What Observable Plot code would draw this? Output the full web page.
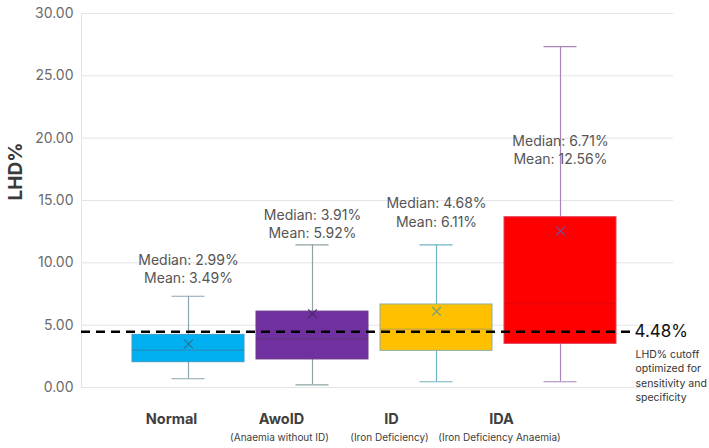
<!DOCTYPE html>
<html>
<head>
<meta charset="utf-8">
<script src="https://cdn.jsdelivr.net/npm/d3@7"></script>
<script src="https://cdn.jsdelivr.net/npm/@observablehq/plot@0.6"></script>
<style>
  body { margin: 0; background: #fff; }
  #chart svg { font-family: Inter, "Noto Sans", sans-serif; }
</style>
</head>
<body>
<div id="chart"></div>
<script>
// LHD% distribution by group
const categories = ["Normal", "AwoID", "ID", "IDA"];
const subtitles = ["", "(Anaemia without ID)", "(Iron Deficiency)", "(Iron Deficiency Anaemia)"];
const whiskerLow = [0.70, 0.21, 0.46, 0.46];
const q1 = [2.03, 2.25, 2.94, 3.50];
const median = [2.99, 3.91, 4.68, 6.71];
const q3 = [4.22, 6.09, 6.66, 13.66];
const whiskerHigh = [7.32, 11.44, 11.44, 27.35];
const mean = [3.49, 5.92, 6.11, 12.56];
// where each Median/Mean annotation sits, in LHD% units
const labelAt = [9.6, 13.2, 14.1, 19.1];
const cutoff = 4.48;
const yTicks = [0, 5, 10, 15, 20, 25, 30];

const boxFill = ["#00b0f0", "#7030a0", "#ffc000", "#ff0000"];
const boxStroke = ["#3a9cc4", "#6a3a8a", "#8fb0a0", "#e0405a"];
const whiskerColor = ["#8aa4b0", "#8fa3a3", "#6fb5c0", "#a884b8"];
const medianColor = ["#2f7fa5", "#5a3a78", "#a89a6a", "#d80818"];
const meanColor = ["#2f6f8f", "#4a2a6a", "#6aa080", "#7a4aa0"];

const rows = categories.map((c, i) => ({
  cat: c, sub: subtitles[i], lo: whiskerLow[i], q1: q1[i], med: median[i],
  q3: q3[i], hi: whiskerHigh[i], mean: mean[i], at: labelAt[i],
  fill: boxFill[i], stroke: boxStroke[i], wc: whiskerColor[i], mc: medianColor[i], xc: meanColor[i]
}));

const fmt = d3.format(".2f");

// group names sit slightly left of their boxes, drifting further left across the axis
const labelMarks = [];
rows.forEach((r, i) => {
  const d = [r];
  labelMarks.push(
    Plot.text(d, {x: "cat", frameAnchor: "bottom", text: "cat", dy: 36, dx: -17 - 14 * i,
      fontSize: 14.5, fontWeight: "bold", fill: "#404040"}),
    Plot.text(d, {x: "cat", frameAnchor: "bottom", text: "sub", dy: 53, dx: -19 - 14 * i,
      fontSize: 10, fill: "#404040"})
  );
});

const chart = Plot.plot({
  width: 709,
  height: 448,
  marginLeft: 81,
  marginRight: 36,
  marginTop: 13,
  marginBottom: 61,
  style: {fontFamily: "Inter, 'Noto Sans', sans-serif", background: "#fff"},
  x: {domain: categories, paddingInner: 0.094, paddingOuter: 0.42, align: 0.47, axis: null},
  y: {domain: [0, 30], axis: null},
  marks: [
    Plot.ruleY(yTicks, {stroke: "#e4e4e4", strokeWidth: 1}),
    Plot.frame({anchor: "left", stroke: "#e4e4e4"}),
    Plot.text(yTicks, {y: d => d, frameAnchor: "left", dx: -8, textAnchor: "end",
      text: d => fmt(d), fontSize: 14, fill: "#6b6b6b"}),
    Plot.text(["LHD%"], {frameAnchor: "left", dx: -66, rotate: -90, text: d => d,
      fontSize: 19, fontWeight: "bold", fill: "#3a3a3a"}),
    // whiskers and caps
    Plot.ruleX(rows, {x: "cat", y1: "lo", y2: "hi", stroke: "wc", strokeWidth: 1.2}),
    Plot.tickY(rows, {x: "cat", y: "lo", stroke: "wc", strokeWidth: 1.2, insetLeft: 39.5, insetRight: 39.5}),
    Plot.tickY(rows, {x: "cat", y: "hi", stroke: "wc", strokeWidth: 1.2, insetLeft: 39.5, insetRight: 39.5}),
    // interquartile boxes
    Plot.barY(rows, {x: "cat", y1: "q1", y2: "q3", fill: "fill", stroke: "stroke", strokeWidth: 1}),
    Plot.tickY(rows, {x: "cat", y: "med", stroke: "mc", strokeWidth: 1, strokeOpacity: 0.8}),
    Plot.dot(rows, {x: "cat", y: "mean", symbol: "times", r: 4, stroke: "xc", strokeWidth: 1.2}),
    // cutoff line
    Plot.ruleY([cutoff], {stroke: "#000", strokeWidth: 2.5, strokeDasharray: "9,6", insetRight: 43}),
    Plot.text([cutoff], {y: d => d, frameAnchor: "right", dx: -39, textAnchor: "start",
      text: d => fmt(d) + "%", fontSize: 17, fill: "#111"}),
    Plot.text([cutoff], {y: d => d, frameAnchor: "right", dx: -38, dy: 16, textAnchor: "start",
      lineAnchor: "top", lineHeight: 1.38,
      text: () => "LHD% cutoff\noptimized for\nsensitivity and\nspecificity", fontSize: 10.5, fill: "#333"}),
    // median / mean annotations
    Plot.text(rows, {x: "cat", y: "at", lineHeight: 1.3,
      text: r => `Median: ${fmt(r.med)}%\nMean: ${fmt(r.mean)}%`, fontSize: 14, fill: "#555"}),
    ...labelMarks
  ]
});

document.getElementById("chart").appendChild(chart);
</script>
</body>
</html>
